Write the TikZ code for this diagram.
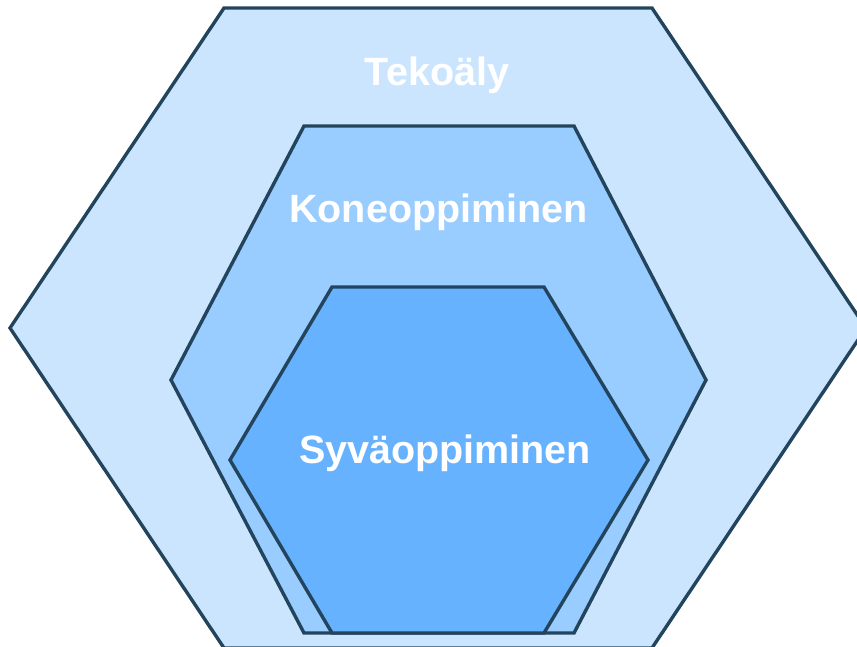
\documentclass[tikz,border=0pt]{standalone}
\usepackage{fontspec}
\setmainfont{Liberation Sans}
\definecolor{rim}{HTML}{23445D}
\definecolor{tekofill}{HTML}{CCE5FF}
\definecolor{konefill}{HTML}{99CCFF}
\definecolor{syvafill}{HTML}{66B2FF}
\tikzset{
  hexa/.style={draw=rim, line width=3.4pt, line join=miter},
  lbl/.style={text=white, font=\fontsize{39.5}{44}\selectfont\bfseries, anchor=base, inner sep=0pt}
}
\begin{document}
\begin{tikzpicture}[x=1pt, y=-1pt]
	\useasboundingbox (0,0) rectangle (857,647);
	\begin{scope}
		\clip (0,0) rectangle (857,647);
		\draw[hexa, fill=tekofill] (224,8) -- (652,8) -- (866,328) -- (652,648) -- (224,648) -- (10,328) -- cycle;
	\end{scope}
	\draw[hexa, fill=konefill] (304,126) -- (574,126) -- (706,380) -- (574,633) -- (304,633) -- (171,380) -- cycle;
	\draw[hexa, fill=syvafill] (332,287) -- (544,287) -- (648,460) -- (544,633) -- (332,633) -- (230,460) -- cycle;
	\node[lbl] (teko) at (437,86) {Tekoäly};
	\node[lbl] (kone) at (438.5,223) {Koneoppiminen};
	\node[lbl] (syva) at (445,463) {Syväoppiminen};
\end{tikzpicture}
\end{document}
